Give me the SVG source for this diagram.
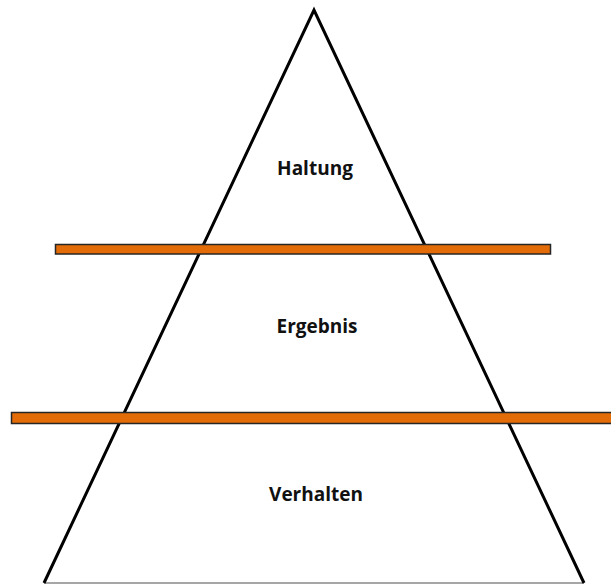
<svg xmlns="http://www.w3.org/2000/svg" width="611" height="584" viewBox="0 0 611 584">
<style>
.lbl{font-family:"Open Sans","Liberation Sans",sans-serif;font-weight:bold;font-size:19px;fill:#111111;text-anchor:middle}
.bar{fill:#e36c09;stroke:#262626;stroke-width:1.5}
</style>
<rect width="611" height="584" fill="#ffffff"/>
<g id="pyramid">
<line x1="44" y1="583" x2="584" y2="583" stroke="#a6a6a6" stroke-width="2"/>
<polyline points="44,583 314,10 584,583" fill="none" stroke="#000" stroke-width="3" stroke-linejoin="miter"/>
</g>
<g id="bar1"><rect class="bar" x="55.5" y="244.5" width="495" height="9.5"/></g>
<g id="bar2"><rect class="bar" x="11.5" y="412.5" width="605" height="11"/></g>
<g id="haltung"><text class="lbl" x="315" y="175">Haltung</text></g>
<g id="ergebnis"><text class="lbl" x="317" y="333">Ergebnis</text></g>
<g id="verhalten"><text class="lbl" x="316" y="501">Verhalten</text></g>
</svg>
